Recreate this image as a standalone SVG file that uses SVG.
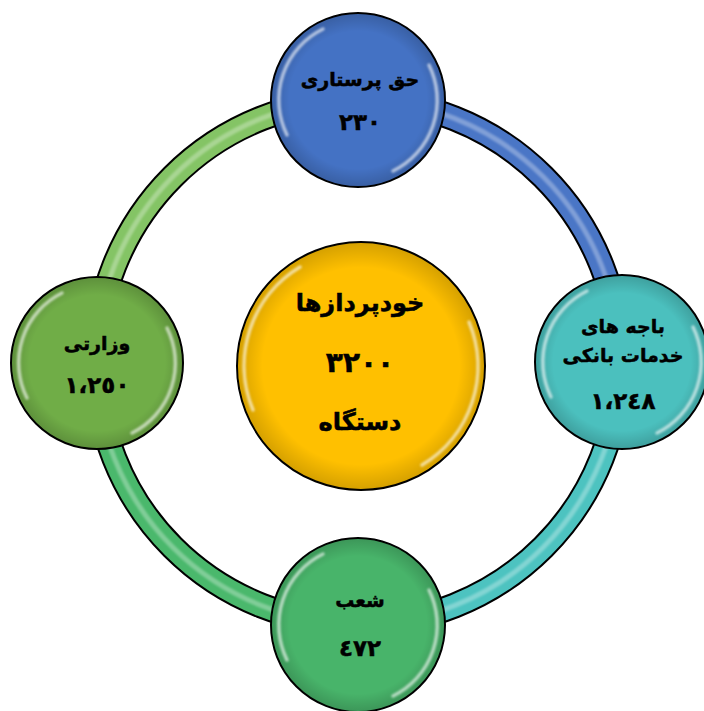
<svg xmlns="http://www.w3.org/2000/svg" width="704" height="711" viewBox="0 0 704 711">
<style>
.arcO{fill:none;stroke:#000;stroke-width:26}
.arcC{fill:none;stroke-width:22}
.arcH{fill:none;stroke:#fff;stroke-width:5;opacity:0.3;filter:url(#blur)}
.node{stroke:#000;stroke-width:2}
.rim{fill:url(#rim)}
.gloss{fill:none;stroke:#fff;stroke-width:3.5;stroke-linecap:round;opacity:0.6;filter:url(#blur)}
.t{font-family:"DejaVu Sans",sans-serif;font-weight:bold;fill:#000;stroke:#000;stroke-width:0.5;text-anchor:middle}
.s{font-size:19px}
.n{font-size:23px}
.b{font-size:24px}
.bn{font-size:28px}
</style>
<defs>
<radialGradient id="rim" cx="0.5" cy="0.5" r="0.5">
<stop offset="0.8" stop-color="#000" stop-opacity="0"/>
<stop offset="1" stop-color="#000" stop-opacity="0.16"/>
</radialGradient>
<filter id="blur" x="-20%" y="-20%" width="140%" height="140%"><feGaussianBlur stdDeviation="1.3"/></filter>
</defs>
<rect width="704" height="711" fill="#fff"/>
<g id="connectors">
<path class="arcO" d="M358,100 A262,262 0 0 1 620,362"/>
<path class="arcC" stroke="#4A76C6" d="M358,100 A262,262 0 0 1 620,362"/>
<path class="arcH" d="M358,100 A262,262 0 0 1 620,362"/>
<path class="arcO" d="M620,362 A262,262 0 0 1 358,624"/>
<path class="arcC" stroke="#4DC3C0" d="M620,362 A262,262 0 0 1 358,624"/>
<path class="arcH" d="M620,362 A262,262 0 0 1 358,624"/>
<path class="arcO" d="M358,624 A262,262 0 0 1 96,362"/>
<path class="arcC" stroke="#4AB86C" d="M358,624 A262,262 0 0 1 96,362"/>
<path class="arcH" d="M358,624 A262,262 0 0 1 96,362"/>
<path class="arcO" d="M96,362 A262,262 0 0 1 358,100"/>
<path class="arcC" stroke="#84C465" d="M96,362 A262,262 0 0 1 358,100"/>
<path class="arcH" d="M96,362 A262,262 0 0 1 358,100"/>
</g>
<g id="node-top">
<circle class="node" cx="358" cy="100" r="87" fill="#4472C4"/>
<circle class="rim" cx="358" cy="100" r="86"/>
<path class="gloss" d="M287,135 A79,79 0 0 1 323,29"/>
<path class="gloss" d="M429,65 A79,79 0 0 1 393,171"/>
<text class="t s" x="360" y="86">حق پرستاری</text>
<text class="t n" x="360" y="130">۲۳۰</text>
</g>
<g id="node-right">
<circle class="node" cx="622" cy="362" r="87" fill="#4BC0BE"/>
<circle class="rim" cx="622" cy="362" r="86"/>
<path class="gloss" d="M551,397 A79,79 0 0 1 587,291"/>
<path class="gloss" d="M693,327 A79,79 0 0 1 657,433"/>
<text class="t s" x="623" y="333">باجه های</text>
<text class="t s" x="623" y="362">خدمات بانکی</text>
<text class="t n" x="623" y="409">١،٢٤٨</text>
</g>
<g id="node-bottom">
<circle class="node" cx="358" cy="625" r="87" fill="#48B46A"/>
<circle class="rim" cx="358" cy="625" r="86"/>
<path class="gloss" d="M287,660 A79,79 0 0 1 323,554"/>
<path class="gloss" d="M429,590 A79,79 0 0 1 393,696"/>
<text class="t s" x="360" y="607">شعب</text>
<text class="t n" x="360" y="656">٤٧٢</text>
</g>
<g id="node-left">
<circle class="node" cx="97" cy="363" r="86" fill="#70AD47"/>
<circle class="rim" cx="97" cy="363" r="85"/>
<path class="gloss" d="M27,398 A78,78 0 0 1 62,293"/>
<path class="gloss" d="M167,328 A78,78 0 0 1 132,433"/>
<text class="t s" x="97" y="350">وزارتی</text>
<text class="t n" x="97" y="393">١،٢٥٠</text>
</g>
<g id="node-center">
<circle class="node" cx="361" cy="366" r="124" fill="#FFC000"/>
<circle class="rim" cx="361" cy="366" r="123"/>
<path class="gloss" d="M253,410 A115,115 0 0 1 300,267"/>
<path class="gloss" d="M469,322 A115,115 0 0 1 422,465"/>
<text class="t b" x="360" y="311">خودپردازها</text>
<text class="t bn" x="360" y="372">٣٢٠٠</text>
<text class="t b" x="360" y="430">دستگاه</text>
</g>
</svg>
